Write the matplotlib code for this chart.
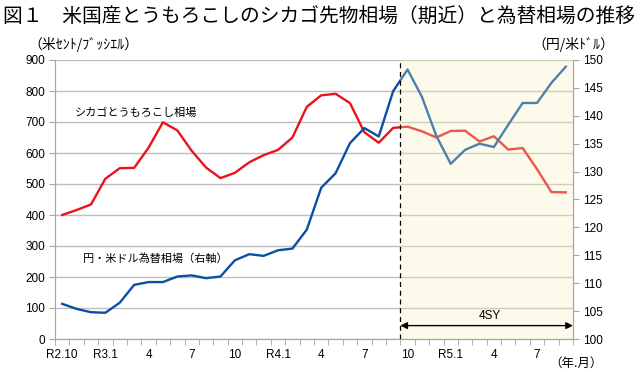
import matplotlib
matplotlib.use("Agg")
import matplotlib.pyplot as plt
import numpy as np

plt.rcParams['font.family'] = ['Noto Sans CJK JP', 'DejaVu Sans']

# monthly values, R2.10 (Oct 2020) .. R5.9 (Sep 2023)
corn = [400, 416, 434, 517, 551, 552, 617, 699, 673, 607, 553, 519,
        536, 570, 593, 610, 650, 749, 786, 791, 761, 667, 633, 681,
        685, 670, 650, 671, 672, 637, 654, 611, 616, 548, 474, 473]
yen = [106.3, 105.4, 104.8, 104.7, 106.5, 109.7, 110.2, 110.2, 111.2, 111.4, 110.9, 111.2,
       114.1, 115.2, 114.9, 115.9, 116.2, 119.6, 127.1, 129.7, 135.1, 137.8, 136.3, 144.4,
       148.3, 143.4, 136.4, 131.4, 133.9, 135.0, 134.4, 138.4, 142.3, 142.3, 145.9, 148.8]
tick_labels = ["R2.10", "R3.1", "4", "7", "10", "R4.1", "4", "7", "10", "R5.1", "4", "7"]
sy_start = 24  # first month of 4SY (R4.10)

x = np.arange(len(corn))
W, H = 640, 372
fig = plt.figure(figsize=(W / 100, H / 100), dpi=100)
ax = fig.add_axes([55 / W, 1 - 339 / H, (573 - 55) / W, (339 - 60) / H])
ax2 = ax.twinx()

gray = "#a6a6a6"
ax.set_xlim(-0.5, len(corn) - 0.5)
ax.set_ylim(0, 900)
ax.set_yticks(np.arange(0, 901, 100))
ax.grid(axis="y", color="#bdbdbd", linewidth=1.0)
ax.set_axisbelow(True)
ax2.set_ylim(100, 150)
ax2.set_yticks(np.arange(100, 151, 5))

ax.plot(x, corn, color="#e8141c", linewidth=1.7, zorder=3)
ax2.plot(x, yen, color="#0a4fa6", linewidth=1.7, zorder=3)

# shaded 4SY period drawn over the lines (lightens them)
ax2.axvspan(sy_start - 0.5, len(corn) - 0.5, facecolor="#f6efbd", alpha=0.3,
            edgecolor="none", zorder=5)
ax2.axvline(sy_start - 0.5, color="black", linestyle=(0, (4, 3)), linewidth=0.9, zorder=6)
ax2.annotate("", xy=(len(corn) - 0.5, 102.4), xytext=(sy_start - 0.5, 102.4),
             arrowprops=dict(arrowstyle="<|-|>", color="black", lw=1.0,
                             mutation_scale=10, shrinkA=0, shrinkB=0), zorder=7)
ax2.text((sy_start + len(corn) - 1) / 2 + 0.2, 103.0, "4SY", ha="center", va="bottom",
         fontsize=8.5, family=["Liberation Sans"], zorder=7)

ax.set_xticks(np.arange(0, len(corn), 3))
ax.set_xticklabels(tick_labels, family=["Liberation Sans"], fontsize=8.5)
ax.set_xticks(np.arange(-0.5, len(corn), 1), minor=True)
ax.tick_params(axis="x", which="major", length=0, pad=7)
ax.tick_params(axis="x", which="minor", length=4, color=gray, direction="out")
ax.tick_params(axis="y", length=4, color=gray, labelsize=8.5, pad=3)
ax2.tick_params(axis="y", length=4, color=gray, labelsize=8.5, pad=3)
for lab in ax.get_yticklabels() + ax2.get_yticklabels():
    lab.set_family(["Liberation Sans"])

for a in (ax, ax2):
    a.spines["top"].set_visible(False)
    for s in ("left", "right", "bottom"):
        a.spines[s].set_color(gray)

ax.text(5.1, 729, "シカゴとうもろこし相場", fontsize=8, va="center", ha="center")
ax2.text(6.5, 114.5, "円・米ドル為替相場（右軸）", fontsize=8, va="center", ha="center")

fig.text(3 / W, 1 - 16 / H, "図１　米国産とうもろこしのシカゴ先物相場（期近）と為替相場の推移",
         fontsize=14.2, va="center", ha="left")
fig.text(28 / W, 1 - 45 / H, "（米ｾﾝﾄ/ﾌﾞｯｼｴﾙ）", fontsize=10, va="center", ha="left")
fig.text(614 / W, 1 - 45 / H, "（円/米ﾄﾞﾙ）", fontsize=10, va="center", ha="right")
fig.text(603 / W, 1 - 363 / H, "（年.月）", fontsize=9, va="center", ha="right")

fig.savefig("out.png", dpi=100)
